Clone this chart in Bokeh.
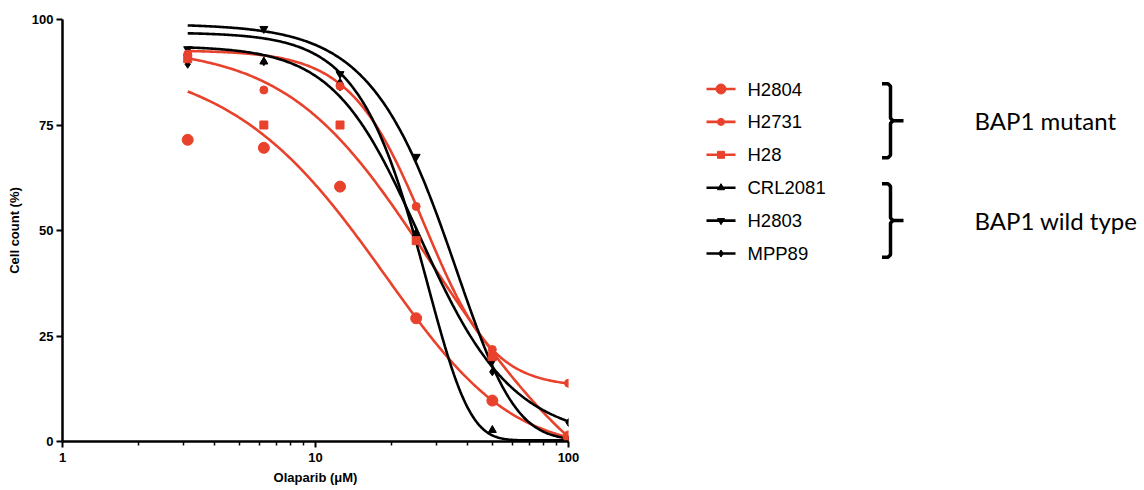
import numpy as np
from bokeh.plotting import figure
from bokeh.models import Range1d, FixedTicker, NumeralTickFormatter
from bokeh.layouts import row
from bokeh.embed import file_html
from bokeh.resources import INLINE
from bokeh.core.properties import value

# ---- data ----
conc = [3.125, 6.25, 12.5, 25, 50, 100]
series_names = ["H2804", "H2731", "H28", "CRL2081", "H2803", "MPP89"]
h2804 = [71.5, 69.6, 60.4, 29.2, 9.7, 1.2]
h2731 = [91.8, 83.3, 84.2, 55.7, 21.8, 13.8]
h28 = [90.7, 75.0, 75.0, 47.6, 20.1, 0.3]
crl2081 = [92.0, 90.0, 85.0, 49.2, 2.7, 0.0]
h2803 = [93.0, 97.8, 87.1, 67.5, 19.1, 0.5]
mpp89 = [89.4, 90.0, 84.0, 49.5, 16.5, 4.5]
values = [h2804, h2731, h28, crl2081, h2803, mpp89]

# fitted dose-response curve parameters (estimated from the drawn curves)
fit_top = [91.27, 92.70, 93.53, 96.93, 98.95, 93.73]
fit_bottom = [-1.97, 12.94, -29.95, 0.26, 0.30, 0.27]
fit_logc = [1.530, 1.478, 1.267, 1.827, 1.855, 1.364]
fit_hill = [1.30, 2.84, 1.70, 2.83, 2.29, 2.66]
fit_logasym = [0.753, 0.283, -0.750, 2.500, 1.554, -0.256]

groups = ["BAP1 mutant", "BAP1 wild type"]

RED = "#E8412C"
BLACK = "#000000"
colors = [RED, RED, RED, BLACK, BLACK, BLACK]
markers = ["circle", "circle", "square", "triangle", "inverted_triangle", "diamond"]
msizes = [11, 8, 8, 8, 8, 8]


def curve(i, lx):
    T, B, lc, h, ls = fit_top[i], fit_bottom[i], fit_logc[i], fit_hill[i], fit_logasym[i]
    return B + (T - B) / (1 + 10 ** (h * (lx - lc))) ** np.exp(ls)


FONT = "Liberation Sans"
W_MAIN, W_SIDE, H = 608, 536, 490
B_TOP, B_BOTTOM = 19, 49

p = figure(width=W_MAIN, height=H, x_axis_type="log",
           x_range=Range1d(1, 100), y_range=Range1d(0, 100),
           output_backend="svg", toolbar_location=None,
           min_border_left=62, min_border_top=B_TOP, min_border_bottom=B_BOTTOM,
           min_border_right=40)
p.grid.visible = False
p.outline_line_color = None
p.background_fill_color = "white"

lxs = np.linspace(np.log10(conc[0]), np.log10(conc[-1]), 300)
for i in range(6):
    p.line(10 ** lxs, curve(i, lxs), line_color=colors[i], line_width=2.6)
for i in [3, 4, 5, 0, 1, 2]:
    p.scatter(conc, values[i], marker=markers[i], size=msizes[i],
              fill_color=colors[i], line_color=colors[i])

p.xaxis.ticker = FixedTicker(ticks=[1, 10, 100],
                             minor_ticks=[2, 3, 4, 5, 6, 7, 8, 9, 20, 30, 40, 50, 60, 70, 80, 90])
p.xaxis.formatter = NumeralTickFormatter(format="0")
p.yaxis.ticker = FixedTicker(ticks=[0, 25, 50, 75, 100], minor_ticks=[])
p.xaxis.axis_label = "Olaparib (μM)"
p.yaxis.axis_label = "Cell count (%)"
for ax in (p.xaxis[0], p.yaxis[0]):
    ax.axis_line_width = 2.5
    ax.axis_line_color = "black"
    ax.major_tick_line_width = 2
    ax.major_tick_out = 6
    ax.major_tick_in = 0
    ax.minor_tick_line_width = 1.5
    ax.minor_tick_out = 4
    ax.minor_tick_in = 0
    ax.major_label_text_font = FONT
    ax.major_label_text_font_style = "bold"
    ax.major_label_text_font_size = "13px"
    ax.major_label_text_color = "black"
    ax.axis_label_text_font = FONT
    ax.axis_label_text_font_style = "bold"
    ax.axis_label_text_font_size = "13px"
    ax.axis_label_text_color = "black"
p.xaxis.major_label_standoff = 5
p.xaxis.axis_label_standoff = 5
p.yaxis.major_label_standoff = 3
p.yaxis.axis_label_standoff = 7

# ---- right-hand legend panel (pixel coordinates, y downwards) ----
# the row aligns this panel's frame with the main frame (top 19, bottom H-49),
# so the y range is set to give a 1:1 mapping to page pixels
q = figure(width=W_SIDE, height=H, x_range=Range1d(0, W_SIDE),
           y_range=Range1d(H - B_BOTTOM, B_TOP),
           output_backend="svg", toolbar_location=None, min_border=0,
           min_border_top=B_TOP, min_border_bottom=B_BOTTOM,
           x_axis_location=None, y_axis_location=None)
q.grid.visible = False
q.outline_line_color = None

top, step = 88.5, 32.9
for i, nm in enumerate(series_names):
    yy = top + i * step
    q.line([98, 127], [yy, yy], line_color=colors[i], line_width=2.6)
    q.scatter([112.5], [yy], marker=markers[i], size=msizes[i] - 1,
              fill_color=colors[i], line_color=colors[i])
    q.text([139], [yy], text=[nm], text_font=value(FONT), text_font_size="18.5px",
           text_baseline="middle", text_align="left", text_color="black")

for g, (y0, y1) in enumerate([(83.3, 157.3), (183.3, 256.7)]):
    ym = (y0 + y1) / 2
    q.line([273.5, 279.5, 282, 282, 284.5, 295],
           [y0, y0, y0 + 2.5, ym - 2.5, ym, ym], line_color="black", line_width=3.5)
    q.line([284.5, 282, 282, 279.5, 273.5],
           [ym, ym + 2.5, y1 - 2.5, y1, y1], line_color="black", line_width=3.5)
    q.text([366], [ym], text=[groups[g]], text_font=value("Lato"), text_font_size="24px",
           text_baseline="middle", text_align="left", text_color="black")

layout = row(p, q)
open("out.html", "w").write(file_html(layout, INLINE))
